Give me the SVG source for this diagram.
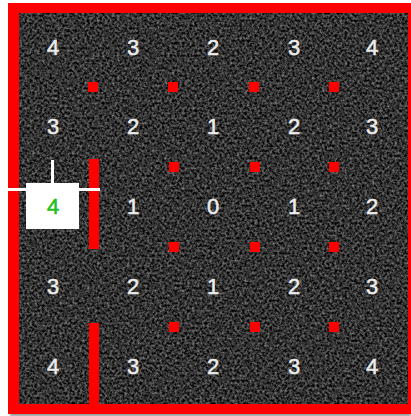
<svg xmlns="http://www.w3.org/2000/svg" width="411" height="416" viewBox="0 0 411 416">
<defs>
<filter id="tex" x="0" y="0" width="1" height="1" color-interpolation-filters="sRGB">
<feTurbulence type="fractalNoise" baseFrequency="0.4" numOctaves="3" seed="7"/>
<feColorMatrix type="matrix" values="0.8 0 0 0 -0.2  0.8 0 0 0 -0.2  0.8 0 0 0 -0.2  0 0 0 0 1"/>
</filter>
<filter id="blur" x="-50%" y="-50%" width="200%" height="200%"><feGaussianBlur stdDeviation="0.8"/></filter>
</defs>
<style>
.n{font-family:"Liberation Sans",Arial,sans-serif;font-size:22px;fill:#ececec;stroke:#ececec;stroke-width:0.5;text-anchor:middle}
.g{font-family:"Liberation Sans",Arial,sans-serif;font-size:22px;fill:#22c022;stroke:#22c022;stroke-width:0.6;text-anchor:middle}
.r{fill:#ff0000}
.w{fill:#ffffff}
</style>
<rect x="0" y="0" width="411" height="416" fill="#ffffff"/>
<rect x="10" y="413" width="401" height="3" fill="#8a8a8a" filter="url(#blur)"/>
<g id="board">
<rect x="8" y="3" width="410" height="411" class="r"/>
<rect x="19" y="13" width="389" height="391" fill="#333" filter="url(#tex)"/>
</g>
<g id="walls">
<rect x="89" y="159" width="10" height="90" class="r"/>
<rect x="89" y="323" width="10" height="82" class="r"/>
</g>
<g id="posts">
<rect x="88" y="82" width="10" height="10" class="r"/>
<rect x="168" y="82" width="10" height="10" class="r"/>
<rect x="249" y="82" width="10" height="10" class="r"/>
<rect x="329" y="82" width="10" height="10" class="r"/>
<rect x="169" y="162" width="10" height="10" class="r"/>
<rect x="250" y="162" width="10" height="10" class="r"/>
<rect x="329" y="162" width="10" height="10" class="r"/>
<rect x="169" y="242" width="10" height="10" class="r"/>
<rect x="250" y="242" width="10" height="10" class="r"/>
<rect x="329" y="242" width="10" height="10" class="r"/>
<rect x="169" y="322" width="10" height="10" class="r"/>
<rect x="250" y="322" width="10" height="10" class="r"/>
<rect x="329" y="322" width="10" height="10" class="r"/>
</g>
<g id="connectors">
<rect x="8" y="188" width="92" height="3" class="w"/>
<rect x="51" y="160" width="3" height="24" class="w"/>
</g>
<g id="start">
<rect x="26" y="183" width="53" height="46" class="w"/>
<text x="53" y="214" class="g">4</text>
</g>
<g id="row1">
<text x="53" y="55" class="n">4</text>
<text x="133" y="55" class="n">3</text>
<text x="213" y="55" class="n">2</text>
<text x="294" y="55" class="n">3</text>
<text x="372" y="55" class="n">4</text>
</g>
<g id="row2">
<text x="53" y="134" class="n">3</text>
<text x="133" y="134" class="n">2</text>
<text x="213" y="134" class="n">1</text>
<text x="294" y="134" class="n">2</text>
<text x="372" y="134" class="n">3</text>
</g>
<g id="row3">
<text x="133" y="214" class="n">1</text>
<text x="213" y="214" class="n">0</text>
<text x="294" y="214" class="n">1</text>
<text x="372" y="214" class="n">2</text>
</g>
<g id="row4">
<text x="53" y="294" class="n">3</text>
<text x="133" y="294" class="n">2</text>
<text x="213" y="294" class="n">1</text>
<text x="294" y="294" class="n">2</text>
<text x="372" y="294" class="n">3</text>
</g>
<g id="row5">
<text x="53" y="374" class="n">4</text>
<text x="133" y="374" class="n">3</text>
<text x="213" y="374" class="n">2</text>
<text x="294" y="374" class="n">3</text>
<text x="372" y="374" class="n">4</text>
</g>
</svg>
